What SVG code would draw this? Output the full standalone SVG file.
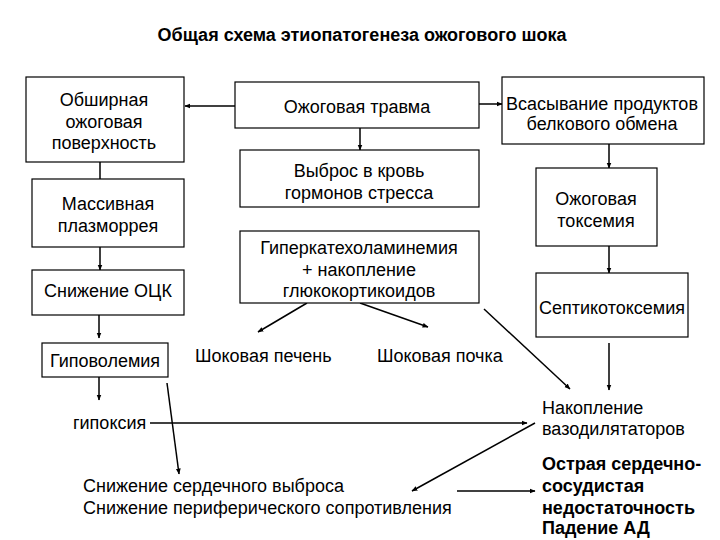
<svg xmlns="http://www.w3.org/2000/svg" width="720" height="540" viewBox="0 0 720 540">
<style>
text{font-family:"Liberation Sans",Arial,sans-serif;font-size:18px;fill:#000}
.c{text-anchor:middle}
.b{font-weight:bold}
.t{font-weight:bold;font-size:18px}
rect{fill:#fff;stroke:#000;stroke-width:1.2}
.ln{stroke:#000;stroke-width:1.5;fill:none}
</style>
<defs>
<marker id="a" viewBox="0 0 10 10" refX="9" refY="5" markerWidth="6" markerHeight="6" orient="auto" markerUnits="userSpaceOnUse">
<path d="M0,1 L10,5 L0,9 Z" fill="#000"/>
</marker>
</defs>
<rect x="0" y="0" width="720" height="540" style="stroke:none"/>
<text class="t c" x="362" y="41">Общая схема этиопатогенеза ожогового шока</text>

<g id="connectors">
<line class="ln" x1="100" y1="162" x2="100" y2="179"/>
<line class="ln" x1="100" y1="247" x2="100" y2="270" marker-end="url(#a)"/>
<line class="ln" x1="99" y1="315" x2="99" y2="338" marker-end="url(#a)"/>
<line class="ln" x1="99" y1="377" x2="99" y2="400" marker-end="url(#a)"/>
<line class="ln" x1="150" y1="423" x2="527" y2="423" marker-end="url(#a)"/>
<line class="ln" x1="167" y1="383" x2="179" y2="474" marker-end="url(#a)"/>
<line class="ln" x1="457" y1="491" x2="535" y2="491" marker-end="url(#a)"/>
<line class="ln" x1="535" y1="423" x2="412" y2="491" marker-end="url(#a)"/>
<line class="ln" x1="235" y1="106" x2="185" y2="106" marker-end="url(#a)"/>
<line class="ln" x1="479" y1="104" x2="502" y2="104" marker-end="url(#a)"/>
<line class="ln" x1="360" y1="128" x2="360" y2="150" marker-end="url(#a)"/>
<line class="ln" x1="307" y1="303" x2="258" y2="332" marker-end="url(#a)"/>
<line class="ln" x1="360" y1="303" x2="428" y2="327" marker-end="url(#a)"/>
<line class="ln" x1="484" y1="309" x2="570" y2="389" marker-end="url(#a)"/>
<line class="ln" x1="609" y1="144" x2="609" y2="168" marker-end="url(#a)"/>
<line class="ln" x1="609" y1="246" x2="609" y2="273" marker-end="url(#a)"/>
<line class="ln" x1="609" y1="343" x2="609" y2="390" marker-end="url(#a)"/>
</g>

<g id="n1"><rect x="26" y="77" width="158" height="85"/>
<text class="c" x="104" y="106">Обширная</text><text class="c" x="104" y="128">ожоговая</text><text class="c" x="104" y="149">поверхность</text></g>
<g id="n2"><rect x="32" y="179" width="152" height="68"/>
<text class="c" x="108" y="210">Массивная</text><text class="c" x="108" y="232">плазморрея</text></g>
<g id="n3"><rect x="32" y="270" width="152" height="45"/>
<text class="c" x="108" y="297">Снижение ОЦК</text></g>
<g id="n4"><rect x="42" y="343" width="126" height="34"/>
<text class="c" x="105" y="367">Гиповолемия</text></g>
<g id="n5"><text x="73" y="429">гипоксия</text></g>
<g id="n6"><text x="83" y="492">Снижение сердечного выброса</text><text x="83" y="514">Снижение периферического сопротивления</text></g>
<g id="n7"><rect x="235" y="82" width="244" height="46"/>
<text class="c" x="357" y="113">Ожоговая травма</text></g>
<g id="n8"><rect x="240" y="150" width="239" height="57"/>
<text class="c" x="359" y="177">Выброс в кровь</text><text class="c" x="359" y="199">гормонов стресса</text></g>
<g id="n9"><rect x="240" y="231" width="239" height="72"/>
<text class="c" x="359" y="254">Гиперкатехоламинемия</text><text class="c" x="359" y="276">+ накопление</text><text class="c" x="359" y="297">глюкокортикоидов</text></g>
<g id="n10"><text x="195" y="362">Шоковая печень</text></g>
<g id="n11"><text x="377" y="362">Шоковая почка</text></g>
<g id="n12"><rect x="502" y="77" width="202" height="67"/>
<text class="c" x="602" y="110">Всасывание продуктов</text><text class="c" x="602" y="130">белкового обмена</text></g>
<g id="n13"><rect x="536" y="168" width="121" height="78"/>
<text class="c" x="596" y="205">Ожоговая</text><text class="c" x="596" y="227">токсемия</text></g>
<g id="n14"><rect x="536" y="273" width="152" height="64"/>
<text class="c" x="612" y="314">Септикотоксемия</text></g>
<g id="n15"><text x="542" y="414">Накопление</text><text x="542" y="435">вазодилятаторов</text></g>
<g id="n16"><text class="b" x="542" y="470">Острая сердечно-</text><text class="b" x="542" y="492">сосудистая</text><text class="b" x="542" y="514">недостаточность</text><text class="b" x="542" y="534">Падение АД</text></g>
</svg>
